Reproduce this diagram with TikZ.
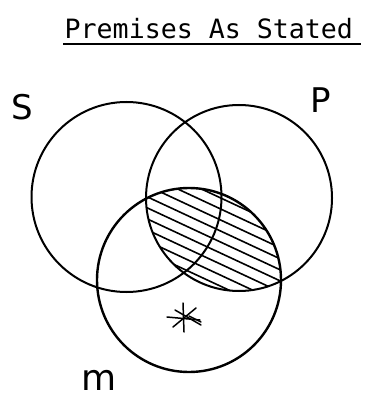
\documentclass[tikz,border=0pt]{standalone}
\usepackage{fontspec}
\usetikzlibrary{calc}
\newfontfamily\titlefont{DejaVu Sans Mono}
\newfontfamily\labelfont{DejaVu Sans}
\begin{document}
\begin{tikzpicture}[x=1pt,y=-1pt,
  ring/.style={draw=black,line width=2pt},
  hatch/.style={draw=black,line width=1.6pt,line cap=round},
  setlabel/.style={inner sep=0pt,font=\labelfont\fontsize{34}{34}\selectfont},
  starline/.style={draw=black,line width=1.5pt,line cap=round}]
\useasboundingbox (0,0) rectangle (367,403);
% title
\node[anchor=base west,inner sep=0pt,font=\titlefont\fontsize{26.6}{27}\selectfont] (title) at (64.5,38.5) {Premises As Stated};
\coordinate (ul1) at (63,44);
\coordinate (ul2) at (361,44);
\draw[line width=1.8pt] (ul1) -- (ul2);
% circle centres
\coordinate (cS) at (126.5,197);
\coordinate (cP) at (239,198);
\coordinate (cM) at (189,280);
\coordinate (hc) at (214,239);
% hatching of P and M
\begin{scope}
  \clip (cP) circle[radius=93];
  \clip (cM) circle[radius=92];
  \foreach \k in {-9,...,9}{
    \draw[hatch] ($(hc)+\k*10*(-0.4226,0.9063)+(-160*0.9063,-160*0.4226)$) -- ($(hc)+\k*10*(-0.4226,0.9063)+(160*0.9063,160*0.4226)$);
  }
\end{scope}
% circles
\draw[ring] (cS) circle[radius=95];
\draw[ring] (cP) circle[radius=93];
\draw[ring,line width=2.4pt] (cM) circle[radius=92];
% labels
\node[setlabel] (S) at (22.5,107.5) {S};
\node[setlabel] (P) at (320.5,100.5) {P};
\node[setlabel,font=\labelfont\fontsize{36}{36}\selectfont,anchor=base] (M) at (99,390) {m};
% asterisk
\coordinate (st) at (183,318);
\draw[starline] (183,303) -- (184,332);
\draw[starline] (167,317) -- (200,320);
\draw[starline] (173,327) -- (196,308);
\draw[starline] (175,310) -- (201,325);
\draw[starline] (189,316) -- (201,322);
\end{tikzpicture}
\end{document}
